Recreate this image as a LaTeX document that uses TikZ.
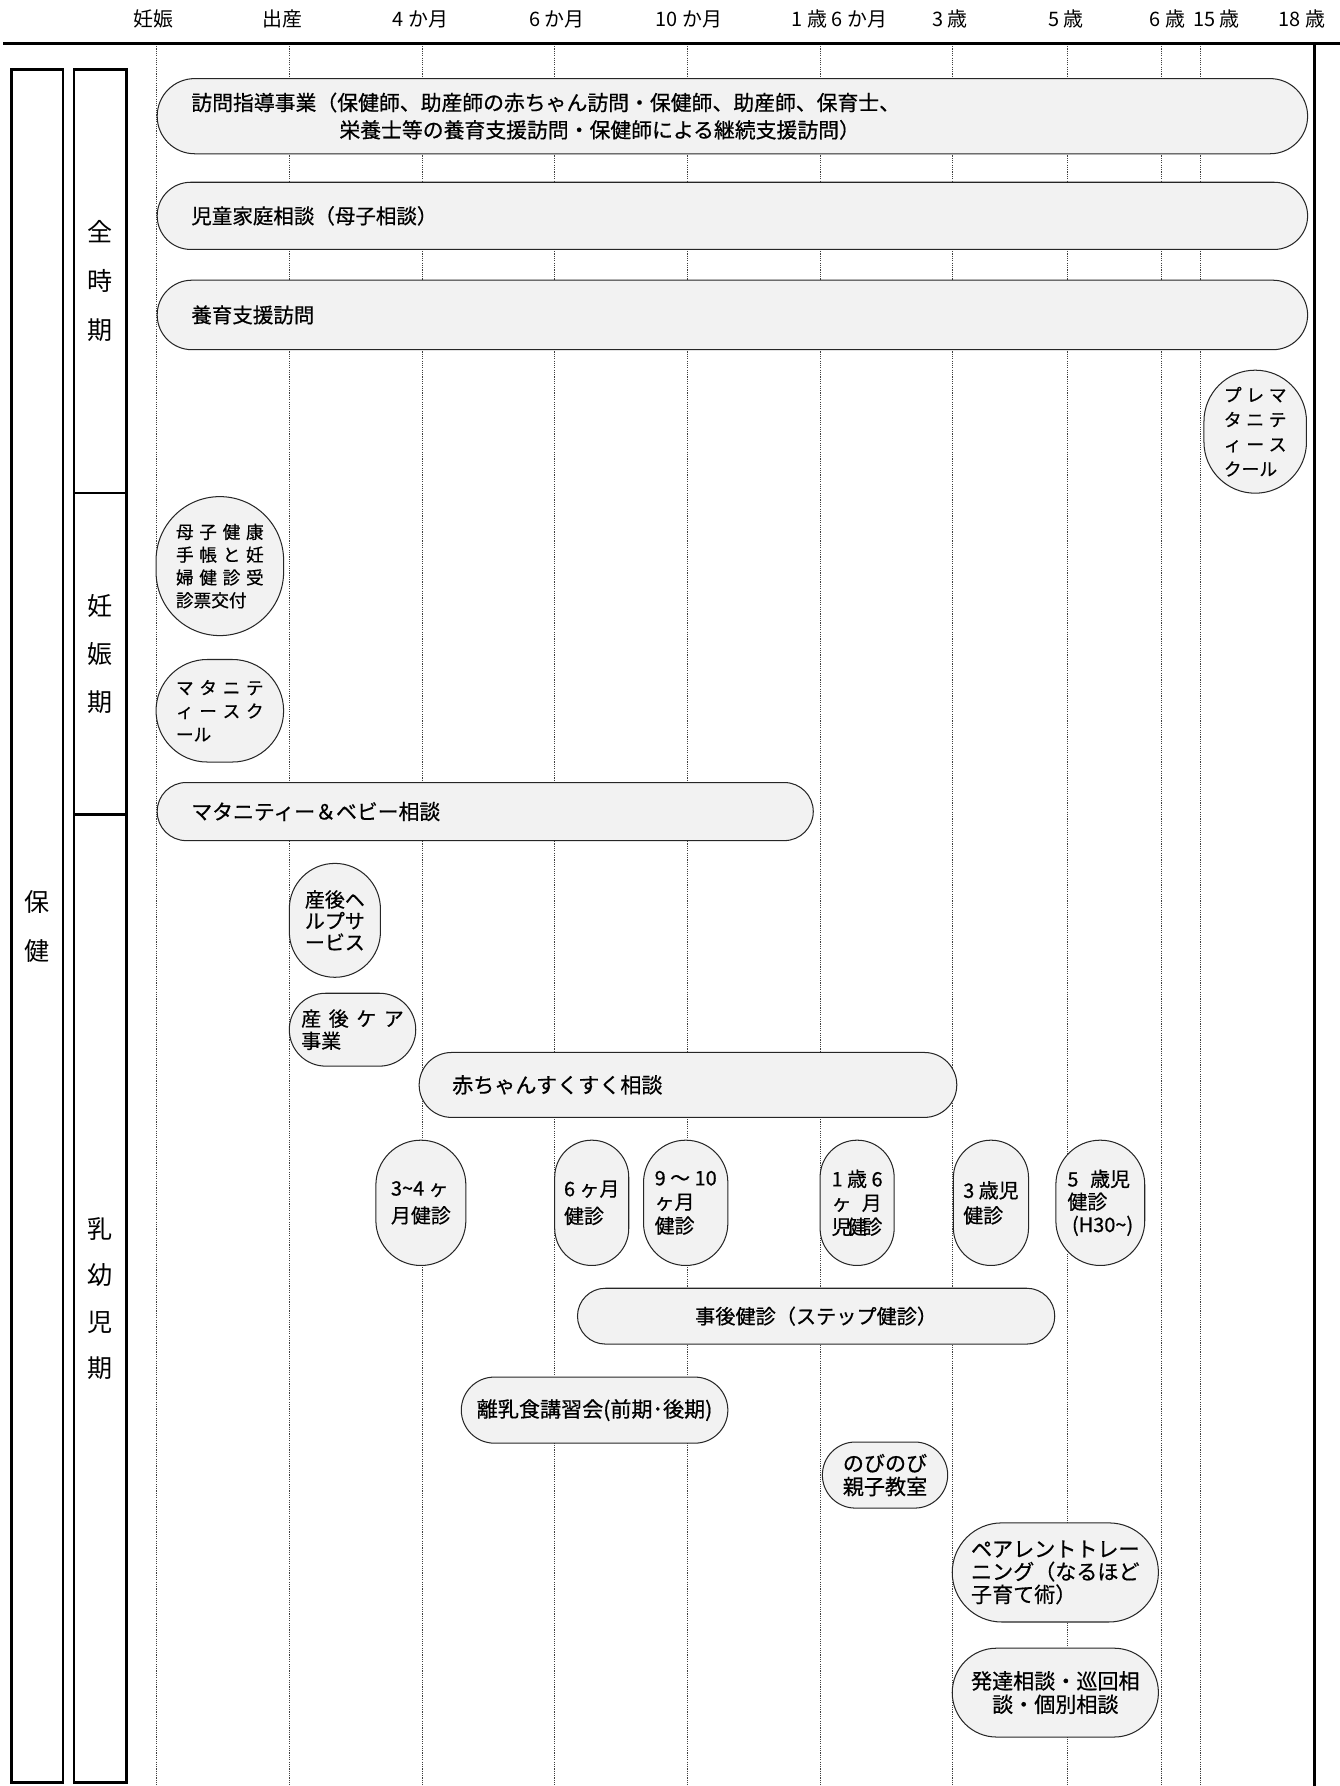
\documentclass[tikz,border=0pt]{standalone}
\usepackage{fontspec}
\setmainfont[FakeBold=0.6]{Noto Sans CJK JP}
\newfontfamily\jpreg{Noto Sans CJK JP}
\usetikzlibrary{calc}
\definecolor{pillgray}{HTML}{F2F2F2}
\tikzset{
  pill/.style={draw=black!85, line width=0.9pt, fill=pillgray, inner sep=0pt, font=\fontsize{18}{22}\selectfont},
  hdr/.style={inner sep=0pt, font=\jpreg\fontsize{17.5}{20}\selectfont},
  sidebox/.style={draw, line width=2pt, inner sep=0pt, align=center, font=\jpreg\fontsize{22}{43}\selectfont},
  gridline/.style={line width=0.6pt, black!75, dash pattern=on 1pt off 1pt},
  heavy/.style={line width=2.4pt, black},
}
\newcommand{\Pillbox}[7]{%
  \pgfmathsetmacro{\PBw}{#4-#2}%
  \pgfmathsetmacro{\PBh}{#5-#3}%
  \pgfmathsetmacro{\PBr}{min(\PBw,\PBh)/2-0.05}%
  \pgfmathsetmacro{\PBx}{(#2+#4)/2}%
  \pgfmathsetmacro{\PBy}{(#3+#5)/2}%
  \node[pill, minimum width=\PBw pt, minimum height=\PBh pt, rounded corners=\PBr pt, #6] (#1) at (\PBx,\PBy) {#7};}
\begin{document}
\begin{tikzpicture}[x=1pt,y=-1pt]
\useasboundingbox (0,0) rectangle (1176,1568);
\fill[white] (0,0) rectangle (1176,1568);

% header labels
\node[hdr] (h1) at (135,17) {妊娠};
\node[hdr] (h2) at (248,17) {出産};
\node[hdr] (h3) at (369,17) {4 か月};
\node[hdr] (h4) at (489,17) {6 か月};
\node[hdr] (h5) at (605,17) {10 か月};
\node[hdr] (h6) at (737,17) {1 歳 6 か月};
\node[hdr] (h7) at (834,17) {3 歳};
\node[hdr] (h8) at (936,17) {5 歳};
\node[hdr] (h9) at (1025,17) {6 歳};
\node[hdr] (h10) at (1068,17) {15 歳};
\node[hdr] (h11) at (1143,17) {18 歳};

% grid lines
\foreach \gx in {137.5,254,370.5,487,603,720,836.5,937,1019.5,1053.5}
  \draw[gridline] (\gx,38.5) -- (\gx,1568);

% frame lines
\draw[heavy] (3,38.5) -- (1176,38.5);
\draw[heavy] (1154,38.5) -- (1154,1568);

% side boxes
\node[sidebox, minimum width=45pt, minimum height=1504pt] (hoken) at (32.5,813) {保\\健};
\node[sidebox, minimum width=46pt, minimum height=372pt] (zenjiki) at (88,247) {全\\時\\期};
\node[sidebox, minimum width=46pt, minimum height=282pt, font=\jpreg\fontsize{22}{42}\selectfont] (ninshin) at (88,574) {妊\\娠\\期};
\node[sidebox, minimum width=46pt, minimum height=850pt, font=\jpreg\fontsize{22}{40.7}\selectfont] (nyuyoji) at (88,1140) {乳\\幼\\児\\期};

% all-period items
\Pillbox{visit}{138}{69}{1148}{135}{text width=950pt, align=left, font=\fontsize{18.3}{24}\selectfont}{訪問指導事業（保健師、助産師の赤ちゃん訪問・保健師、助産師、保育士、\\\hspace*{130pt}栄養士等の養育支援訪問・保健師による継続支援訪問）}
\Pillbox{jidou}{138}{160}{1148}{219}{text width=950pt, align=left, font=\fontsize{18}{22}\selectfont}{児童家庭相談（母子相談）}
\Pillbox{youiku}{138}{246}{1148}{307}{text width=950pt, align=left, font=\fontsize{18}{22}\selectfont}{養育支援訪問}
\Pillbox{premata}{1057}{325}{1147}{433}{align=left, font=\fontsize{15.6}{21.7}\selectfont}{\makebox[55pt][s]{プ\hfill レ\hfill マ}\\\makebox[55pt][s]{タ\hfill ニ\hfill テ}\\\makebox[55pt][s]{ィ\hfill ー\hfill ス}\\クール}

% pregnancy items
\Pillbox{boshi}{137}{436}{249}{558}{align=left, font=\fontsize{15.5}{20}\selectfont}{\makebox[77pt][s]{母\hfill 子\hfill 健\hfill 康}\\\makebox[77pt][s]{手\hfill 帳\hfill と\hfill 妊}\\\makebox[77pt][s]{婦\hfill 健\hfill 診\hfill 受}\\診票交付}
\Pillbox{matas}{137}{579}{249}{669}{align=left, font=\fontsize{15.5}{20.5}\selectfont}{\makebox[77pt][s]{マ\hfill タ\hfill ニ\hfill テ}\\\makebox[77pt][s]{ィ\hfill ー\hfill ス\hfill ク}\\ール}
\Pillbox{matbaby}{138}{687}{714}{738}{text width=516pt, align=left, font=\fontsize{18.3}{22}\selectfont}{マタニティー＆ベビー相談}

% infancy items
\Pillbox{shelp}{254}{758}{334}{858}{align=left, font=\fontsize{17.5}{18.8}\selectfont}{産後ヘ\\ルプサ\\ービス}
\Pillbox{scare}{254}{872}{365}{936}{align=left, font=\fontsize{17.5}{19.5}\selectfont}{\makebox[90pt][s]{産\hfill 後\hfill ケ\hfill ア}\\事業}
\Pillbox{sukusuku}{368}{924}{840}{981}{text width=414pt, align=left, font=\fontsize{18.5}{22}\selectfont}{赤ちゃんすくすく相談}
\Pillbox{k34}{330}{1001}{409}{1111}{align=left, font=\fontsize{17.5}{24}\selectfont}{3\textasciitilde 4 ヶ\\月健診}
\Pillbox{k6}{487}{1001}{552}{1111}{align=left, font=\fontsize{17.5}{24}\selectfont}{6 ヶ月\\健診}
\Pillbox{k910}{565}{1001}{639}{1111}{align=left, font=\fontsize{17.5}{21}\selectfont}{9 ～ 10\\ヶ月\\健診}
\Pillbox{k16}{720}{1001}{785}{1111}{align=left, font=\fontsize{17.5}{21}\selectfont}{1 歳 6\\\makebox[44pt][s]{ヶ\hfill 月}\\児\kern-4pt 健\kern-4pt 診}
\Pillbox{k3}{837}{1001}{903}{1111}{align=left, font=\fontsize{17.5}{22}\selectfont}{3 歳児\\健診}
\Pillbox{k5}{927}{1001}{1005}{1111}{align=left, font=\fontsize{17.5}{20}\selectfont}{\makebox[55pt][s]{5\hfill 歳児}\\健診\\\hspace*{4pt}(H30\textasciitilde)}
\Pillbox{jigo}{507}{1131}{926}{1180}{font=\fontsize{17.7}{22}\selectfont}{事後健診（ステップ健診）}
\Pillbox{rinyu}{405}{1209}{639}{1267}{font=\fontsize{18.5}{22}\selectfont}{離乳食講習会(前期･後期)}
\Pillbox{nobi}{722}{1266}{832}{1324}{align=center, font=\fontsize{18.5}{20.5}\selectfont}{のびのび\\親子教室}
\Pillbox{parent}{836}{1337}{1017}{1424}{align=left, font=\fontsize{18.5}{20}\selectfont}{ペアレントトレー\\ニング（なるほど\\子育て術）}
\Pillbox{hattatsu}{836}{1447}{1017}{1525}{align=center, font=\fontsize{18.5}{20.5}\selectfont}{発達相談・巡回相\\談・個別相談}
\end{tikzpicture}
\end{document}
